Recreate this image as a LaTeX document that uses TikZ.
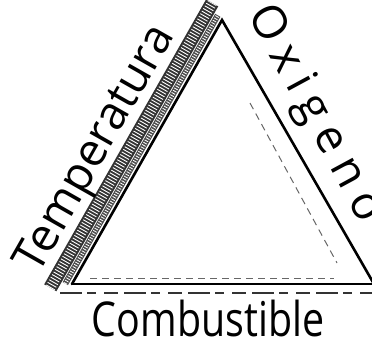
\documentclass[tikz,border=0pt]{standalone}
\usepackage{fontspec}
\newfontfamily\rotulo{Open Sans}
\newfontfamily\rotuloest[FakeStretch=0.82]{Open Sans}
\usetikzlibrary{calc}

\begin{document}
\begin{tikzpicture}[x=1pt, y=-1pt,
    lado/.style={line width=2.6pt, line join=miter, line cap=round},
    banda/.style={line width=14pt, black!80},
    trama/.style={line width=10pt, white, dash pattern=on 0.9pt off 2.1pt},
    rastro/.style={line width=2pt, black!80,
      dash pattern=on 22pt off 5pt on 9pt off 8pt on 14pt off 6pt},
    tenue/.style={line width=1pt, black!60, dash pattern=on 7pt off 5pt},
    rotulo/.style={font=\rotulo\fontsize{46}{46}\selectfont, inner sep=0pt}
]
\useasboundingbox (0,0) rectangle (372,354);

% --- V\'ertices del tri\'angulo ---
\coordinate (cima) at (222,20);
\coordinate (izq) at (72,284);
\coordinate (der) at (374,284);

% --- Banda de temperatura (lado izquierdo) ---
\draw[banda] ($(izq)+(-21.7,3.8)$) -- ($(cima)+(-9.85,-17.1)$);
\draw[trama] ($(izq)+(-21.7,3.8)$) -- ($(cima)+(-9.85,-17.1)$);
\draw[line width=6pt, black!70] ($(izq)+(-6.7,-0.35)$) -- ($(cima)+(-4.2,-4.7)$);
\draw[line width=4pt, white, dash pattern=on 0.8pt off 1.8pt]
      ($(izq)+(-6.7,-0.35)$) -- ($(cima)+(-4.2,-4.7)$);

% --- Lados del tri\'angulo ---
\draw[lado] (izq) -- (cima) -- (der);
\draw[lado] (izq) -- (der);

% --- Trazos sueltos del dibujo ---
\draw[rastro] ($(izq)+(-12,9)$) -- ($(der)+(0,9)$);
\draw[tenue] ($(izq)+(18,-6)$) -- ($(der)+(-40,-6)$);
\draw[tenue] ($(cima)+(28,83)$) -- ($(cima)+(115,243)$);

% --- R\'otulos ---
\node[rotulo, rotate=60.4] (temp) at (97,150) {Temperatura};
\node[rotulo, rotate=-61.6] (oxi) at (314,114)
      {\addfontfeature{LetterSpace=22}Oxigeno};
\node[rotulo, font=\rotuloest\fontsize{48}{48}\selectfont] (comb)
      at (208,318) {Combustible};
\end{tikzpicture}
\end{document}
